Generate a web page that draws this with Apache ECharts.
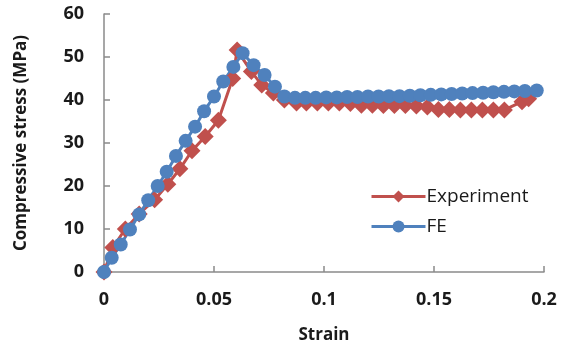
<!DOCTYPE html>
<html><head><meta charset="utf-8">
<script src="https://cdn.jsdelivr.net/npm/echarts@6/dist/echarts.min.js"></script>
<style>html,body{margin:0;padding:0;background:#fff}#c{width:561px;height:354px}</style>
</head><body><div id="c"></div>
<script>
const expStrain = [0,0.004,0.0097,0.016,0.023,0.029,0.0345,0.040,0.046,0.052,0.0585,0.0605,0.067,0.0717,0.077,0.082,0.0875,0.092,0.097,0.102,0.107,0.112,0.117,0.122,0.127,0.132,0.137,0.142,0.147,0.152,0.157,0.162,0.167,0.172,0.177,0.182,0.190,0.193];
const expStress = [0,5.7,10,13.5,16.8,20.4,24,28.2,31.5,35.3,45,51.6,46.6,43.5,41.6,40,39.3,39.3,39.3,39.3,39.3,39.2,38.8,38.8,38.7,38.7,38.7,38.6,38.4,37.8,37.8,37.7,37.7,37.7,37.7,37.7,39.6,40.3];
const feStrain = [0,0.0035,0.0076,0.0118,0.016,0.0201,0.0244,0.0285,0.0327,0.0371,0.0414,0.0455,0.05,0.0542,0.0588,0.063,0.068,0.073,0.0777,0.082,0.0868,0.0915,0.0962,0.101,0.1058,0.1105,0.1152,0.12,0.1248,0.1295,0.1343,0.139,0.1438,0.1485,0.1533,0.158,0.1628,0.1675,0.1723,0.177,0.1818,0.1865,0.1913,0.1967];
const feStress = [0,3.3,6.4,9.9,13.4,16.7,20,23.3,27,30.5,33.8,37.4,40.8,44.3,47.7,50.9,48.1,45.8,43.1,40.8,40.5,40.5,40.5,40.6,40.6,40.7,40.7,40.8,40.8,40.9,40.9,41,41.1,41.2,41.3,41.4,41.5,41.6,41.7,41.8,41.9,42,42.1,42.2];
const xTicks = [0,0.05,0.1,0.15,0.2];
const yTicks = [0,10,20,30,40,50,60];
const seriesNames = ['Experiment','FE'];

const pair = (xs, ys) => xs.map((x,i)=>[x, ys[i]]);
const chart = echarts.init(document.getElementById('c'));
const axisCol = '#8a8a8a';
const FF = 'Open Sans, Liberation Sans, sans-serif';
const lblFont = {fontFamily:FF, fontWeight:'bold', fontSize:18, color:'#1a1a1a'};
chart.setOption({
  animation:false,
  grid:{left:104,right:17,top:14,bottom:82},
  legend:{
    orient:'vertical', left:365, top:182, itemWidth:54, itemHeight:15, itemGap:11,
    lineStyle:{width:3},
    textStyle:{fontFamily:FF, fontSize:19, color:'#1a1a1a', padding:[0,0,0,-4]},
    data:seriesNames
  },
  xAxis:{
    type:'value', min:xTicks[0], max:xTicks[xTicks.length-1], interval:0.05,
    name:'Strain', nameLocation:'middle', nameGap:55,
    nameTextStyle:{fontFamily:FF, fontWeight:'bold', fontSize:17, color:'#1a1a1a'},
    axisLine:{lineStyle:{color:axisCol, width:1.5}},
    axisTick:{inside:true, length:6, lineStyle:{color:axisCol, width:1.5}},
    splitLine:{show:false},
    axisLabel:Object.assign({margin:19, formatter:v=>String(v)}, lblFont)
  },
  yAxis:{
    type:'value', min:yTicks[0], max:yTicks[yTicks.length-1], interval:10,
    name:'Compressive stress (MPa)', nameLocation:'middle', nameGap:74, nameRotate:90,
    nameTextStyle:{fontFamily:FF, fontWeight:'bold', fontSize:17, color:'#1a1a1a'},
    axisLine:{show:true, lineStyle:{color:axisCol, width:1.5}},
    axisTick:{show:true, inside:true, length:6, lineStyle:{color:axisCol, width:1.5}},
    splitLine:{show:false},
    axisLabel:Object.assign({margin:20}, lblFont)
  },
  series:[
    {name:seriesNames[0], type:'line', data:pair(expStrain, expStress), symbol:'diamond', symbolSize:17,
     color:'#C0504D', lineStyle:{width:3, color:'#C0504D'}, itemStyle:{color:'#C0504D'}},
    {name:seriesNames[1], type:'line', data:pair(feStrain, feStress), symbol:'circle', symbolSize:14,
     color:'#4F81BD', lineStyle:{width:3, color:'#4F81BD'}, itemStyle:{color:'#4F81BD'}}
  ]
});
</script></body></html>
